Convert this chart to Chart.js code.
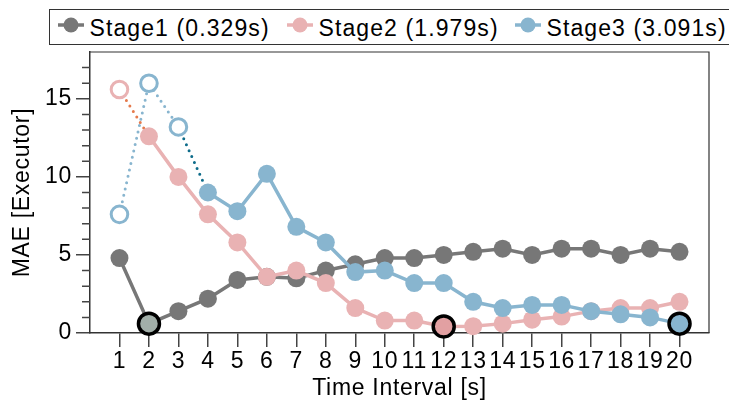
<!DOCTYPE html>
<html>
<head>
<meta charset="utf-8">
<script src="https://cdn.jsdelivr.net/npm/chart.js@4.4.1/dist/chart.umd.min.js"></script>
<style>
  html, body { margin: 0; padding: 0; background: #fff; overflow: hidden; }
  #wrap { position: relative; width: 729px; height: 403px; }
  #chart { position: absolute; left: 0; top: 0; }
  #legend { position: absolute; left: 49px; top: 9px; width: 690px; height: 34px;
            border: 1.5px solid #333; background: #fff; }
  .lg { position: absolute; font: 23px "Liberation Sans", Arial, sans-serif; letter-spacing: 1.1px;
        line-height: 23px; color: #000; white-space: nowrap; }
  .mk { position: absolute; }
</style>
</head>
<body>
<div id="wrap">
  <canvas id="chart" width="729" height="403"></canvas>
  <div id="legend"></div>
</div>
<script>
const intervals = [1, 2, 3, 4, 5, 6, 7, 8, 9, 10, 11, 12, 13, 14, 15, 16, 17, 18, 19, 20];
const stage1 = [4.8, 0.6, 1.4, 2.2, 3.4, 3.6, 3.5, 4.0, 4.4, 4.8, 4.8, 5.0, 5.2, 5.4, 5.0, 5.4, 5.4, 5.0, 5.4, 5.2];
const stage2 = [15.6, 12.6, 10.0, 7.6, 5.8, 3.6, 4.0, 3.2, 1.6, 0.8, 0.8, 0.42, 0.44, 0.6, 0.85, 1.05, 1.4, 1.6, 1.6, 2.0];
const stage3 = [7.6, 16.0, 13.2, 9.0, 7.8, 10.2, 6.8, 5.8, 3.9, 4.0, 3.2, 3.2, 2.0, 1.6, 1.8, 1.8, 1.4, 1.2, 1.0, 0.6];
const stageNames = ['Stage1 (0.329s)', 'Stage2 (1.979s)', 'Stage3 (3.091s)'];
// number of leading (warm-up) points drawn hollow + dotted
const warmup = [0, 1, 3];
const yTicks = [0, 5, 10, 15];

const colors = ['#777777', '#e9b2b3', '#88b5cf'];
const darkDots = ['#777777', '#e57a4c', '#0e6c8a'];
const bestFill = ['#a2afa9', '#e2a0a2', '#88b5cf'];
const FONT = '"Liberation Sans", Arial, sans-serif';

function makeDataset(values, k) {
  const best = values.indexOf(Math.min(...values));
  const n = warmup[k];
  return {
    label: stageNames[k],
    data: intervals.map((t, i) => ({x: t, y: values[i]})),
    order: 3 - k,
    clip: false,
    borderColor: colors[k],
    borderWidth: 3.5,
    pointRadius: c => c.dataIndex === best ? 10.5 : (c.dataIndex < n ? 8.3 : 9),
    pointBorderWidth: c => c.dataIndex === best ? 3.5 : (c.dataIndex < n ? 3 : 0),
    pointBorderColor: c => c.dataIndex === best ? '#000' : colors[k],
    pointBackgroundColor: c => c.dataIndex === best ? bestFill[k] : (c.dataIndex < n ? '#fff' : colors[k]),
    segment: {
      borderColor: c => c.p0DataIndex === n - 1 ? darkDots[k] : colors[k],
      borderDash: c => c.p0DataIndex < n ? [0, 6.5] : [],
      borderWidth: c => c.p0DataIndex < n ? 3 : 3.5
    },
    borderCapStyle: 'round'
  };
}

// legend (html)
const legendPos = [[58, 90], [287, 319], [515, 547]];
const lg = document.getElementById('legend');
stageNames.forEach((name, k) => {
  const [mx, tx] = legendPos[k];
  const svg = `<svg class="mk" width="26" height="20" style="left:${mx - 50.5}px;top:4.5px">
    <line x1="0" y1="10" x2="26" y2="10" stroke="${colors[k]}" stroke-width="3.5"/>
    <circle cx="13" cy="10" r="7.5" fill="${colors[k]}"/></svg>`;
  lg.insertAdjacentHTML('beforeend', svg + `<div class="lg" style="left:${tx - 50.5}px;top:7px">${name}</div>`);
});

const frame = {
  id: 'frame',
  beforeDraw(chart) { chart.ctx.letterSpacing = '0.7px'; },
  beforeDatasetsDraw(chart) {
    const {ctx, chartArea: a, scales: {y}} = chart;
    ctx.save();
    ctx.strokeStyle = '#333';
    ctx.lineWidth = 1.2;
    ctx.beginPath();
    ctx.moveTo(a.left, a.top);
    ctx.lineTo(a.right, a.top);
    ctx.lineTo(a.right, a.bottom);
    ctx.stroke();
    ctx.strokeStyle = '#444';
    ctx.lineWidth = 1.5;
    ctx.beginPath();
    for (let v = y.min; v < y.max; v++) {
      if (yTicks.includes(v)) continue;
      const py = y.getPixelForValue(v);
      ctx.moveTo(a.left - 8, py);
      ctx.lineTo(a.left, py);
    }
    ctx.stroke();
    ctx.restore();
  },
  afterDraw(chart) { chart.ctx.letterSpacing = '0px'; }
};

new Chart(document.getElementById('chart'), {
  type: 'line',
  data: { datasets: [stage1, stage2, stage3].map(makeDataset) },
  options: {
    responsive: false,
    animation: false,
    layout: { padding: { left: 0, right: 20, top: 52, bottom: 0 } },
    plugins: { legend: { display: false }, tooltip: { enabled: false } },
    scales: {
      x: {
        type: 'linear',
        min: 0,
        max: 21,
        afterBuildTicks: s => { s.ticks = intervals.map(v => ({value: v})); },
        afterFit: s => { s.height = 70; },
        ticks: { stepSize: 1, autoSkip: false, maxRotation: 0, color: '#000', padding: 1,
                 font: { family: FONT, size: 23, lineHeight: 1.2 } },
        grid: { drawOnChartArea: false, drawTicks: true, tickLength: 14, color: '#444', lineWidth: 1.5 },
        border: { display: true, color: '#333', width: 1.5 },
        title: { display: true, text: 'Time Interval [s]', color: '#000', padding: { top: 0, bottom: 1 },
                 font: { family: FONT, size: 23, lineHeight: 1.2 } }
      },
      y: {
        min: 0,
        max: 18,
        afterBuildTicks: s => { s.ticks = yTicks.map(v => ({value: v})); },
        afterFit: s => { s.width = 90; },
        ticks: { color: '#000', padding: 4, font: { family: FONT, size: 23, lineHeight: 1.2 } },
        grid: { drawOnChartArea: false, drawTicks: true, tickLength: 14, color: '#444', lineWidth: 1.5 },
        border: { display: true, color: '#333', width: 1.5 },
        title: { display: true, text: 'MAE [Executor]', color: '#000', padding: { top: 9, bottom: 0 },
                 font: { family: FONT, size: 23, lineHeight: 1.2 } }
      }
    }
  },
  plugins: [frame]
});
</script>
</body>
</html>
